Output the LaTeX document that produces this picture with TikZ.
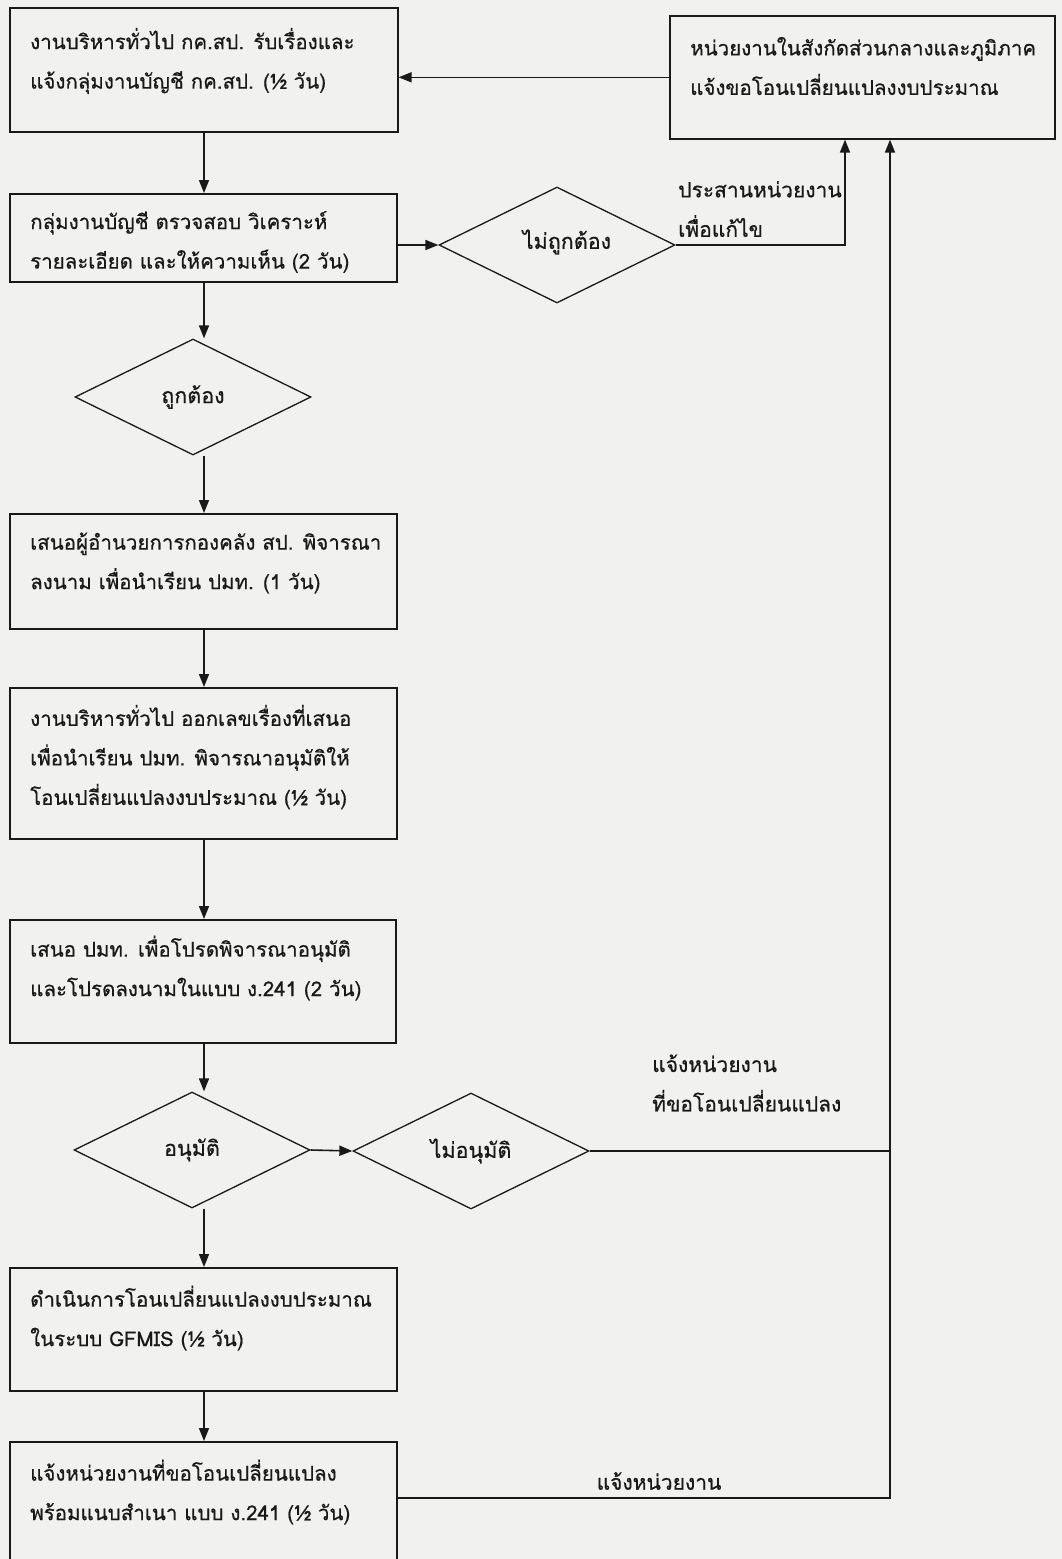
\documentclass[tikz,border=0pt]{standalone}
\usepackage{fontspec}
\newfontfamily\thaifont[Script=Thai, FakeBold=0.6]{Loma}
\usetikzlibrary{shapes.geometric,arrows.meta}
\definecolor{paper}{RGB}{241,241,239}
\definecolor{ink}{RGB}{25,25,25}
\begin{document}
\begin{tikzpicture}[x=1pt,y=-1pt,
  box/.style={draw=ink, line width=1.6pt, rectangle, anchor=north west, inner sep=0pt},
  txt/.style={anchor=west, align=left, inner sep=0pt, text=ink,
    font=\thaifont\fontsize{20.5}{39.5}\selectfont},
  lbl/.style={txt, font=\thaifont\fontsize{21}{39.5}\selectfont},
  dtxt/.style={inner sep=0pt, text=ink, font=\thaifont\fontsize{21.5}{24}\selectfont},
  dec/.style={draw=ink, diamond, line width=1.3pt, minimum width=236pt,
    minimum height=116pt, inner sep=0pt, text=ink,
    font=\thaifont\fontsize{21.5}{24}\selectfont},
  flow/.style={draw=ink, line width=1.6pt, -{Triangle[length=13pt,width=10pt]}},
  link/.style={draw=ink, line width=1.6pt}
]
% page
\fill[paper] (0,0) rectangle (1062,1559);
\clip (0,0) rectangle (1062,1559);

% guide coordinates for the main column and the return lines
\coordinate (sp) at (204,0);
\coordinate (c1) at (845,0);
\coordinate (c2) at (890,0);
\coordinate (j) at (0,1498);

% process boxes
\node[box, minimum width=388pt, minimum height=124pt] (b1) at (9,7) {};
\node[txt] (b1t) at (30,61) {งานบริหารทั่วไป กค.สป. รับเรื่องและ\\แจ้งกลุ่มงานบัญชี กค.สป. (½ วัน)};

\node[box, minimum width=385pt, minimum height=123pt] (tr) at (669,15) {};
\node[txt] (trt) at (690,66) {หน่วยงานในสังกัดส่วนกลางและภูมิภาค\\แจ้งขอโอนเปลี่ยนแปลงงบประมาณ};

\node[box, minimum width=387pt, minimum height=88pt] (b2) at (9,193) {};
\node[txt] (b2t) at (30,242) {กลุ่มงานบัญชี ตรวจสอบ วิเคราะห์\\รายละเอียด และให้ความเห็น (2 วัน)};

\node[box, minimum width=387pt, minimum height=115pt] (b3) at (9,513) {};
\node[txt] (b3t) at (30,563) {เสนอผู้อำนวยการกองคลัง สป. พิจารณา\\ลงนาม เพื่อนำเรียน ปมท. (1 วัน)};

\node[box, minimum width=387pt, minimum height=151pt] (b4) at (9,687) {};
\node[txt] (b4t) at (30,757) {งานบริหารทั่วไป ออกเลขเรื่องที่เสนอ\\เพื่อนำเรียน ปมท. พิจารณาอนุมัติให้\\โอนเปลี่ยนแปลงงบประมาณ (½ วัน)};

\node[box, minimum width=386pt, minimum height=123pt] (b5) at (9,919) {};
\node[txt] (b5t) at (30,968) {เสนอ ปมท. เพื่อโปรดพิจารณาอนุมัติ\\และโปรดลงนามในแบบ ง.241 (2 วัน)};

\node[box, minimum width=387pt, minimum height=123pt] (b6) at (9,1267) {};
\node[txt] (b6t) at (30,1318) {ดำเนินการโอนเปลี่ยนแปลงงบประมาณ\\ในระบบ GFMIS (½ วัน)};

\node[box, minimum width=387pt, minimum height=150pt] (b7) at (9,1441) {};
\node[txt] (b7t) at (30,1492) {แจ้งหน่วยงานที่ขอโอนเปลี่ยนแปลง\\พร้อมแนบสำเนา แบบ ง.241 (½ วัน)};

% decisions
\node[dec] (dx) at (557,245) {};
\node[dtxt] (dxt) at (567,242) {ไม่ถูกต้อง};
\node[dec] (d1) at (193,397) {ถูกต้อง};
\node[dec] (d2) at (192,1150) {อนุมัติ};
\node[dec] (d3) at (471,1151) {ไม่อนุมัติ};

% connector labels
\node[lbl] (l1) at (678,209) {ประสานหน่วยงาน\\เพื่อแก้ไข};
\node[lbl] (l2) at (652,1083) {แจ้งหน่วยงาน\\ที่ขอโอนเปลี่ยนแปลง};
\node[lbl, anchor=center] (l3) at (659,1481) {แจ้งหน่วยงาน};

% main column
\draw[flow] (tr.west) -- (tr.west -| b1.east);
\draw[flow] (b1.south -| sp) -- (b2.north -| sp);
\draw[flow] (b2.south -| sp) -- (d1.north -| sp);
\draw[flow] (d1.south -| sp) -- (b3.north -| sp);
\draw[flow] (b3.south -| sp) -- (b4.north -| sp);
\draw[flow] (b4.south -| sp) -- (b5.north -| sp);
\draw[flow] (b5.south -| sp) -- (d2.north -| sp);
\draw[flow] (d2.south -| sp) -- (b6.north -| sp);
\draw[flow] (b6.south -| sp) -- (b7.north -| sp);

% side branches
\draw[flow] (b2.east |- dx.west) -- (dx.west);
\draw[flow] (dx.east) -| (c1 |- tr.south);
\draw[flow] (d2.east) -- (d3.west);
\draw[link] (d3.east) -- (d3.east -| c2);
\draw[flow] (b7.east |- j) -| (c2 |- tr.south);
\end{tikzpicture}
\end{document}
